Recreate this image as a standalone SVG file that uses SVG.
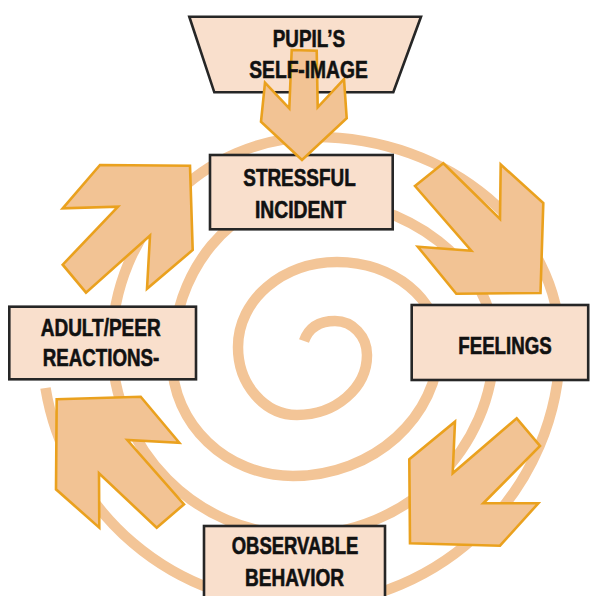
<svg xmlns="http://www.w3.org/2000/svg" width="591" height="596" viewBox="0 0 591 596">
  <style>
    .box { fill: #f9dfcc; stroke: #262626; stroke-width: 2.6; }
    .arrow { fill: #f2c394; stroke: #eaa11e; stroke-width: 2.6; stroke-linejoin: miter; }
    .spiral { fill: none; stroke: #f3c597; stroke-width: 10.5; stroke-linecap: butt; }
    .label { font-family: "Liberation Sans", Arial, sans-serif; font-weight: bold; font-size: 23.5px; fill: #111; stroke: #111; stroke-width: 0.6; }
  </style>
  <rect width="591" height="596" fill="#ffffff"/>

  <!-- background spiral -->
  <g id="spiral">
    <path class="spiral" d="M 304 341 C 309 327, 320 321, 335 321
      C 352.6 321, 367 336.3, 367 355
      C 367 388, 335.5 415, 297 415
      C 264.5 415, 238 384.4, 238 347
      C 238 300, 282.5 262, 337 262
      C 393.1 262, 439 299.4, 439 345
      C 439 417, 373.3 476, 293 476
      C 226.5 476, 172 423.8, 172 360
      C 172 271, 232.4 198, 305 198
      C 409 198, 494 264, 494 345
      C 494 449.5, 406.7 535, 300 535
      C 196.6 535, 112 449.5, 112 345
      C 112 230.6, 203.4 137, 315 137
      C 449.75 137, 560 230.6, 560 345
      C 560 488, 443 605, 300 605
      A 259 259 0 0 1 45.5 388"/>
  </g>

  <!-- nodes -->
  <g id="node-self-image">
    <polygon class="box" points="189.3,16.7 421,16.7 393.3,92.3 214.3,92.3"/>
  </g>
  <g id="node-stressful-incident">
    <rect class="box" x="210" y="155" width="182.7" height="74.3"/>
    <text class="label" x="243.3" y="185.7" textLength="112.4" lengthAdjust="spacingAndGlyphs">STRESSFUL</text>
    <text class="label" x="255" y="218.3" textLength="91" lengthAdjust="spacingAndGlyphs">INCIDENT</text>
  </g>
  <g id="node-feelings">
    <rect class="box" x="411.7" y="305" width="176.5" height="75"/>
    <text class="label" x="458.3" y="354.3" textLength="93.4" lengthAdjust="spacingAndGlyphs">FEELINGS</text>
  </g>
  <g id="node-observable-behavior">
    <rect class="box" x="204" y="526" width="181" height="80"/>
    <text class="label" x="231.7" y="554.3" textLength="126.6" lengthAdjust="spacingAndGlyphs">OBSERVABLE</text>
    <text class="label" x="245" y="586" textLength="99" lengthAdjust="spacingAndGlyphs">BEHAVIOR</text>
  </g>
  <g id="node-adult-peer-reactions">
    <rect class="box" x="9.3" y="306.7" width="186.7" height="72.6"/>
    <text class="label" x="40.7" y="336" textLength="120" lengthAdjust="spacingAndGlyphs">ADULT/PEER</text>
    <text class="label" x="42.7" y="366" textLength="116.6" lengthAdjust="spacingAndGlyphs">REACTIONS-</text>
  </g>

  <!-- connectors: block arrows around the cycle -->
  <g id="connectors">
    <polygon class="arrow" points="291.7,50 316.7,50.7 317.7,107.3 344,79 346.7,118.3 302,160 261,121.7 265,82.7 289.3,108.3"/>
    <polygon class="arrow" points="415,186 443.3,163.3 500,219 500.7,164.5 543.3,203 540.5,293 456.3,293.7 417.8,246.7 471.3,250.7"/>
    <polygon class="arrow" points="409.3,459.3 455,421.7 452.7,473.3 516.7,418.3 540,446 483.3,503.3 538.3,503.3 500,545.7 410,543.3"/>
    <polygon class="arrow" points="56.7,399.3 140.7,396.7 179.3,442.7 127.3,440 184,504.3 156.7,527.7 99,473.3 99.3,527.7 56,489.3"/>
    <polygon class="arrow" points="100,165 190,165.8 192.7,250 147,288.8 150,235.5 86,292.7 62.7,264.7 118,206.7 62.7,208.3"/>
  </g>

  <!-- self-image label sits above the incoming arrow shaft -->
  <g id="node-self-image-label">
    <text class="label" x="272.7" y="46.7" textLength="72.3" lengthAdjust="spacingAndGlyphs">PUPIL’S</text>
    <text class="label" x="249.3" y="78.3" textLength="118.4" lengthAdjust="spacingAndGlyphs">SELF-IMAGE</text>
  </g>
</svg>
